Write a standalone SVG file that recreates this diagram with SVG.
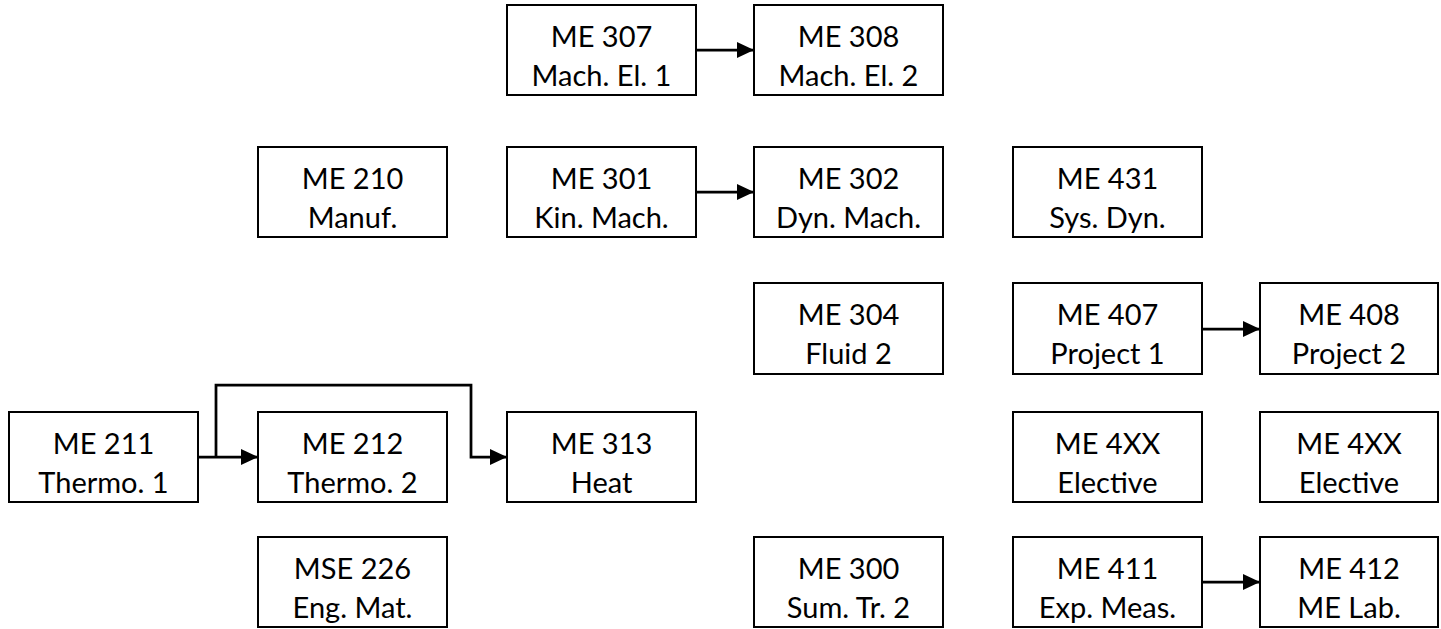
<svg xmlns="http://www.w3.org/2000/svg" width="1441" height="629" viewBox="0 0 1441 629">
<style>
.box{fill:#fff;stroke:#000;stroke-width:2}
.t{font-family:Lato,"Liberation Sans",sans-serif;font-size:29px;fill:#000;text-anchor:middle}
.c{fill:none;stroke:#000;stroke-width:2.75}
</style>
<defs>
<marker id="ah" markerUnits="userSpaceOnUse" markerWidth="17" markerHeight="16" refX="17" refY="8" orient="auto">
<path d="M0,0 L17,8 L0,16 z" fill="#000"/>
</marker>
</defs>
<rect width="1441" height="629" fill="#fff"/>
<g id="me307"><rect class="box" x="507" y="5" width="189" height="90"/><text class="t" x="601.5" y="47">ME 307</text><text class="t" x="601.5" y="86">Mach. El. 1</text></g>
<g id="me308"><rect class="box" x="754" y="5" width="189" height="90"/><text class="t" x="848.5" y="47">ME 308</text><text class="t" x="848.5" y="86">Mach. El. 2</text></g>
<g id="me210"><rect class="box" x="258" y="147" width="189" height="90"/><text class="t" x="352.5" y="189">ME 210</text><text class="t" x="352.5" y="228">Manuf.</text></g>
<g id="me301"><rect class="box" x="507" y="147" width="189" height="90"/><text class="t" x="601.5" y="189">ME 301</text><text class="t" x="601.5" y="228">Kin. Mach.</text></g>
<g id="me302"><rect class="box" x="754" y="147" width="189" height="90"/><text class="t" x="848.5" y="189">ME 302</text><text class="t" x="848.5" y="228">Dyn. Mach.</text></g>
<g id="me431"><rect class="box" x="1013" y="147" width="189" height="90"/><text class="t" x="1107.5" y="189">ME 431</text><text class="t" x="1107.5" y="228">Sys. Dyn.</text></g>
<g id="me304"><rect class="box" x="754" y="283" width="189" height="91"/><text class="t" x="848.5" y="325">ME 304</text><text class="t" x="848.5" y="364">Fluid 2</text></g>
<g id="me407"><rect class="box" x="1013" y="283" width="189" height="91"/><text class="t" x="1107.5" y="325">ME 407</text><text class="t" x="1107.5" y="364">Project 1</text></g>
<g id="me408"><rect class="box" x="1260" y="283" width="178" height="91"/><text class="t" x="1349" y="325">ME 408</text><text class="t" x="1349" y="364">Project 2</text></g>
<g id="me211"><rect class="box" x="9" y="412" width="189" height="90"/><text class="t" x="103.5" y="454">ME 211</text><text class="t" x="103.5" y="493">Thermo. 1</text></g>
<g id="me212"><rect class="box" x="258" y="412" width="189" height="90"/><text class="t" x="352.5" y="454">ME 212</text><text class="t" x="352.5" y="493">Thermo. 2</text></g>
<g id="me313"><rect class="box" x="507" y="412" width="189" height="90"/><text class="t" x="601.5" y="454">ME 313</text><text class="t" x="601.5" y="493">Heat</text></g>
<g id="me4xx-a"><rect class="box" x="1013" y="412" width="189" height="90"/><text class="t" x="1107.5" y="454">ME 4XX</text><text class="t" x="1107.5" y="493">Elective</text></g>
<g id="me4xx-b"><rect class="box" x="1260" y="412" width="178" height="90"/><text class="t" x="1349" y="454">ME 4XX</text><text class="t" x="1349" y="493">Elective</text></g>
<g id="mse226"><rect class="box" x="258" y="537" width="189" height="90"/><text class="t" x="352.5" y="579">MSE 226</text><text class="t" x="352.5" y="618">Eng. Mat.</text></g>
<g id="me300"><rect class="box" x="754" y="537" width="189" height="90"/><text class="t" x="848.5" y="579">ME 300</text><text class="t" x="848.5" y="618">Sum. Tr. 2</text></g>
<g id="me411"><rect class="box" x="1013" y="537" width="189" height="90"/><text class="t" x="1107.5" y="579">ME 411</text><text class="t" x="1107.5" y="618">Exp. Meas.</text></g>
<g id="me412"><rect class="box" x="1260" y="537" width="178" height="90"/><text class="t" x="1349" y="579">ME 412</text><text class="t" x="1349" y="618">ME Lab.</text></g>
<g id="connectors">
<line class="c" x1="696" y1="50" x2="754" y2="50" marker-end="url(#ah)"/>
<line class="c" x1="696" y1="192" x2="754" y2="192" marker-end="url(#ah)"/>
<line class="c" x1="1202" y1="329" x2="1260" y2="329" marker-end="url(#ah)"/>
<line class="c" x1="1202" y1="582" x2="1260" y2="582" marker-end="url(#ah)"/>
<line class="c" x1="198" y1="457" x2="258" y2="457" marker-end="url(#ah)"/>
<polyline class="c" points="216,457 216,385 471,385 471,457 507,457" marker-end="url(#ah)"/>
</g>
</svg>
